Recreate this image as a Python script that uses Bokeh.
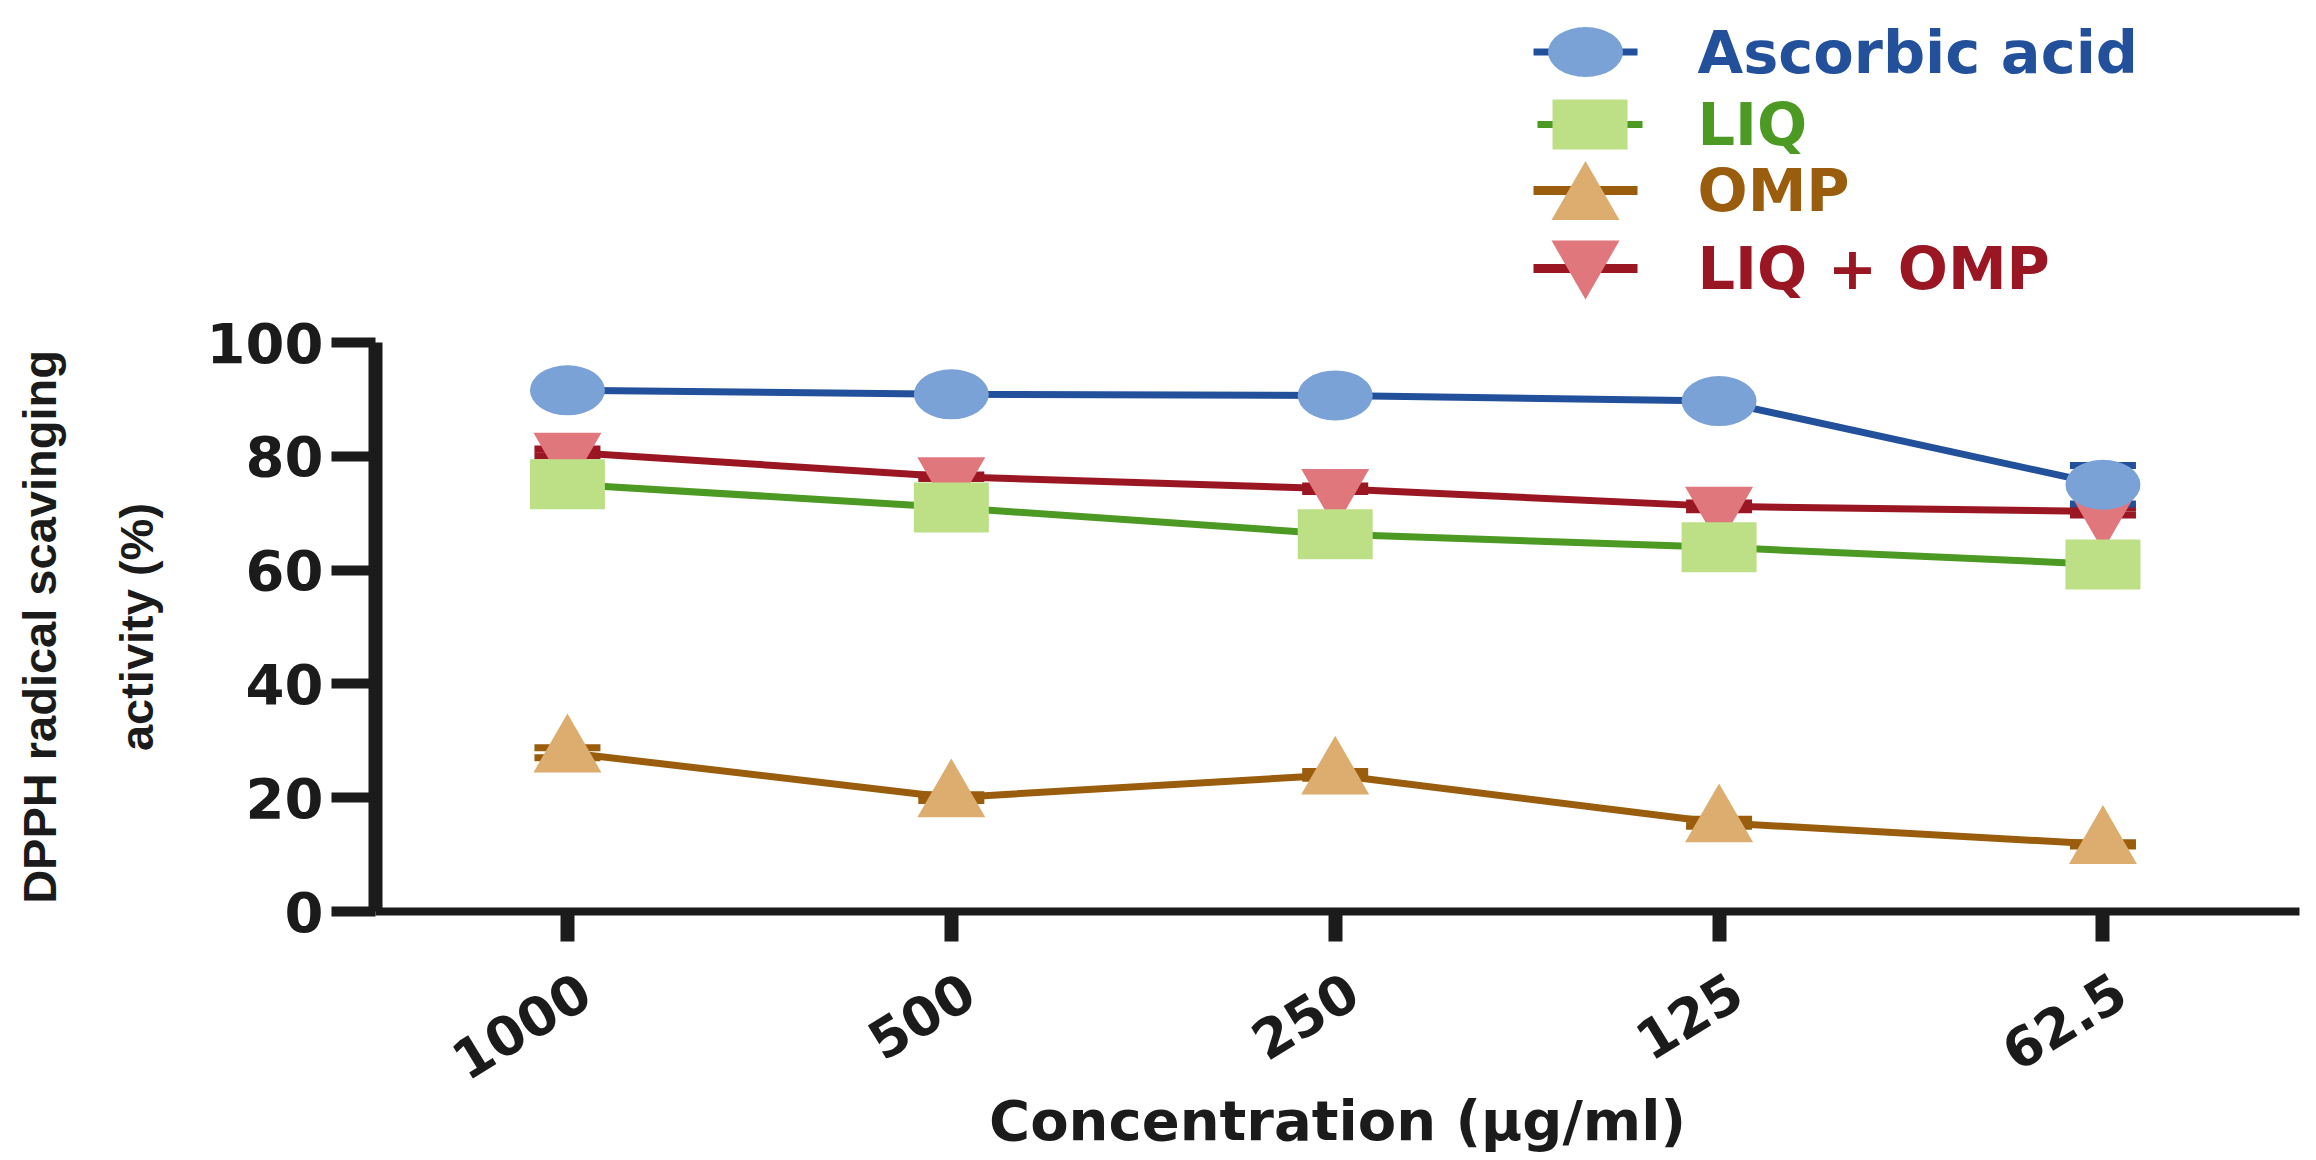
from bokeh.plotting import figure
from bokeh.layouts import column
from bokeh.models import (ColumnDataSource, Range1d, FixedTicker, LinearAxis,
                          Whisker, TeeHead)
from bokeh.core.properties import value
from bokeh.embed import file_html
from bokeh.resources import INLINE

# ---------------- data ----------------
categories = ["1000", "500", "250", "125", "62.5"]
series_names = ["Ascorbic acid", "LIQ", "OMP", "LIQ + OMP"]
ascorbic_acid = [91.6, 90.9, 90.7, 89.7, 75.0]
ascorbic_err = [0.8, 0.8, 0.8, 0.8, 3.4]
liq = [75.1, 71.0, 66.3, 64.0, 61.0]
liq_err = [0.8, 0.8, 0.8, 0.8, 0.8]
omp = [27.9, 20.0, 24.0, 15.6, 11.8]
omp_err = [0.9, 0.5, 0.6, 0.6, 0.3]
liq_omp = [80.7, 76.4, 74.3, 71.2, 70.3]
liq_omp_err = [0.6, 0.3, 0.5, 0.6, 0.6]
y_ticks = [0, 20, 40, 60, 80, 100]

# ---------------- styling / layout ----------------
INK = "#1b1b1b"
LINE_COLORS = ["#23509b", "#4c9a23", "#9a5d0d", "#9a1622"]
FILL_COLORS = ["#7aa2d7", "#bde086", "#dcad6e", "#e0777c"]
TXT_FONT = "DejaVu Sans"
LBL_FONT = "Liberation Sans"

W = 2308
LH = 306                       # height of the legend strip on top
FL, FR = 375, 2299             # frame left/right
FT, FB = 342, 911              # frame top/bottom (page coordinates)

xs = list(range(len(categories)))
values = [ascorbic_acid, liq, omp, liq_omp]
errors = [ascorbic_err, liq_err, omp_err, liq_omp_err]
sources = []
for v, e in zip(values, errors):
    sources.append(ColumnDataSource(dict(
        x=xs, y=v,
        upper=[a + b for a, b in zip(v, e)],
        lower=[a - b for a, b in zip(v, e)])))

MARKER_SIZE = (75, 50)
TRI_SIZE = 68


def add_marker(fig, i, src, x="x", y="y"):
    if i == 0:
        return fig.ellipse(x, y, source=src, width=MARKER_SIZE[0], height=MARKER_SIZE[1],
                           width_units="screen", height_units="screen",
                           fill_color=FILL_COLORS[i], line_color=None)
    if i == 1:
        return fig.rect(x, y, source=src, width=MARKER_SIZE[0], height=MARKER_SIZE[1],
                        width_units="screen", height_units="screen",
                        fill_color=FILL_COLORS[i], line_color=None)
    marker = "triangle" if i == 2 else "inverted_triangle"
    return fig.scatter(x, y, source=src, marker=marker, size=TRI_SIZE,
                       fill_color=FILL_COLORS[i], line_color=None)


# ================= main plot =================
p = figure(frame_width=FR - FL, frame_height=FB - FT, output_backend="svg",
           toolbar_location=None,
           x_range=Range1d(-0.5, 4.512), y_range=Range1d(0, 100),
           min_border_left=FL, min_border_right=W - FR,
           min_border_top=FT - LH, min_border_bottom=200)
p.outline_line_color = None
p.grid.visible = False
p.background_fill_color = "white"
p.border_fill_color = "white"

# x axis: line + tick marks (minor ticks, so no labels)
xa = p.xaxis[0]
xa.ticker = FixedTicker(ticks=[], minor_ticks=xs)
xa.axis_line_color = INK
xa.axis_line_width = 8
xa.major_tick_in = 0
xa.major_tick_out = 0
xa.minor_tick_in = 0
xa.minor_tick_out = 30
xa.minor_tick_line_width = 14
xa.minor_tick_line_color = INK
xa.major_label_standoff = 0

# second x axis carrying the rotated labels and the title
shift = 18 / 384
p.extra_x_ranges = {"labels": Range1d(-0.5 - shift, 4.512 - shift)}
xb = LinearAxis(x_range_name="labels", ticker=FixedTicker(ticks=xs),
                major_label_overrides={i: c for i, c in enumerate(categories)},
                axis_line_color=None, major_tick_out=0, major_tick_in=0,
                minor_tick_out=0, minor_tick_in=0,
                major_label_orientation=0.55, major_label_standoff=45,
                major_label_text_font=TXT_FONT, major_label_text_font_style="bold",
                major_label_text_font_size="54px", major_label_text_color=INK,
                axis_label="Concentration (µg/ml)", axis_label_text_font=TXT_FONT,
                axis_label_text_font_style="bold", axis_label_text_font_size="56px",
                axis_label_text_color=INK, axis_label_standoff=-13)
p.add_layout(xb, "below")

# y axis
ya = p.yaxis[0]
ya.ticker = FixedTicker(ticks=y_ticks)
ya.axis_line_color = INK
ya.axis_line_width = 14
ya.major_tick_in = 0
ya.major_tick_out = 44
ya.major_tick_line_width = 10
ya.major_tick_line_color = INK
ya.minor_tick_out = 0
ya.minor_tick_in = 0
ya.major_label_standoff = 8
ya.major_label_text_font = TXT_FONT
ya.major_label_text_font_style = "bold"
ya.major_label_text_font_size = "56px"
ya.major_label_text_color = INK
ya.axis_label = "activity (%)"
ya.axis_label_text_font = LBL_FONT
ya.axis_label_text_font_style = "bold"
ya.axis_label_text_font_size = "47px"
ya.axis_label_text_color = INK
ya.axis_label_standoff = 41

ya2 = LinearAxis(axis_label="DPPH radical scavinging", ticker=FixedTicker(ticks=[]),
                 axis_line_color=None, major_tick_out=0, major_tick_in=0,
                 minor_tick_out=0, minor_tick_in=0, major_label_standoff=0,
                 axis_label_text_font=LBL_FONT, axis_label_text_font_style="bold",
                 axis_label_text_font_size="47px", axis_label_text_color=INK,
                 axis_label_standoff=41)
p.add_layout(ya2, "left")

draw_order = [3, 2, 1, 0]
for i in draw_order:
    p.line("x", "y", source=sources[i], line_color=LINE_COLORS[i], line_width=7)
    cap = dict(size=66, line_color=LINE_COLORS[i], line_width=7)
    p.add_layout(Whisker(source=sources[i], base="x", upper="upper", lower="lower",
                         dimension="height", line_color=LINE_COLORS[i], line_width=5,
                         upper_head=TeeHead(**cap), lower_head=TeeHead(**cap)))
for i in draw_order:
    add_marker(p, i, sources[i])

# ================= legend strip (pixel coordinates) =================
lf = figure(width=W, height=LH, output_backend="svg", toolbar_location=None,
            x_range=Range1d(FL, FR), y_range=Range1d(LH, 0),
            x_axis_location=None, y_axis_location=None, min_border=0)
lf.outline_line_color = None
lf.grid.visible = False
lf.background_fill_color = "white"
lf.border_fill_color = "white"

# legend key layout (pixels)
key_row_y = [51.5, 124, 190, 268]
key_x0 = [1533, 1537, 1533, 1533]
key_x1 = [1637, 1642, 1637, 1637]
key_line_w = [7, 7, 9, 9]
key_mark_x = [1585, 1589.5, 1585, 1585]
tri_h = TRI_SIZE * 0.866
key_mark_y = [51.5, 124, 190 + tri_h / 6, 269.5 - tri_h / 6]
label_x = 1697

lf.segment(x0=key_x0, x1=key_x1, y0=key_row_y, y1=key_row_y,
           line_color=LINE_COLORS, line_width=key_line_w)
for i in range(4):
    add_marker(lf, i, ColumnDataSource(dict(x=[key_mark_x[i]], y=[key_mark_y[i]])))
lf.text(x=[label_x] * 4, y=key_row_y, text=series_names, text_color=LINE_COLORS,
        text_font=value(TXT_FONT), text_font_style="bold", text_font_size="59px",
        text_align="left", text_baseline="middle")

layout = column(lf, p, spacing=0)
open("out.html", "w").write(file_html(layout, INLINE))
